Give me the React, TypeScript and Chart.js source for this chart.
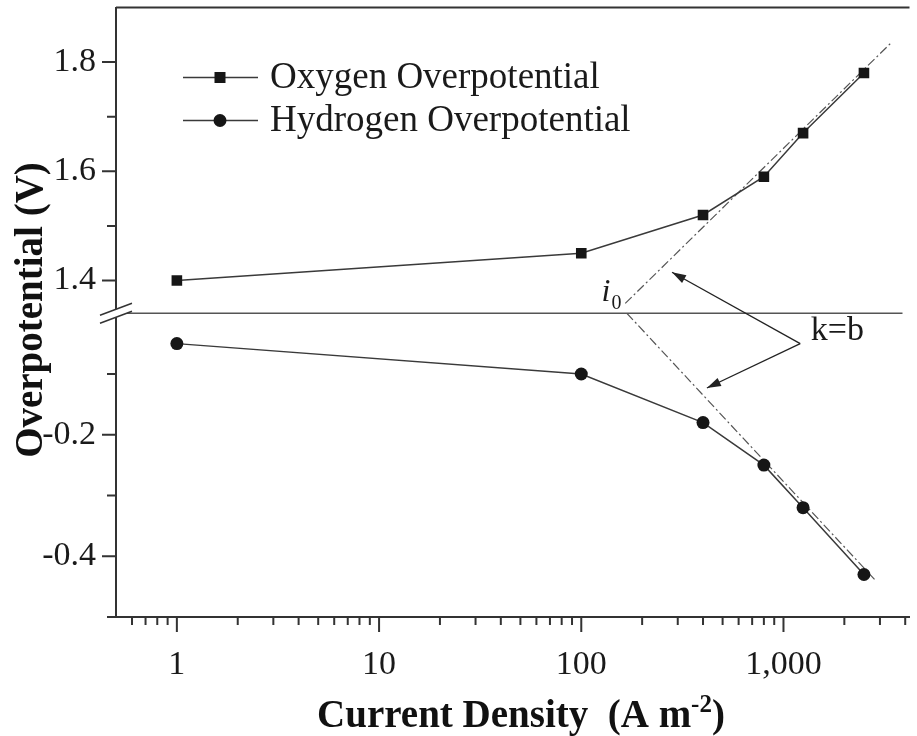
import React, { useEffect, useRef } from 'react';
import { Chart, registerables } from 'chart.js';

Chart.register(...registerables);

// ---- data ----
const currentDensity = [1, 100, 400, 800, 1250, 2500];
const oxygenOverpotential = [1.40, 1.45, 1.52, 1.59, 1.67, 1.78];
const hydrogenOverpotential = [-0.05, -0.10, -0.18, -0.25, -0.32, -0.43];

// Tafel (k=b) extrapolation lines
const oxygenTafelX = [165, 3400];
const oxygenTafelY = [1.358, 1.835];
const hydrogenTafelX = [168, 2820];
const hydrogenTafelY = [0.0, -0.438];

// axes
const xTickValues = [1, 10, 100, 1000];
const xTickLabels = ['1', '10', '100', '1,000'];
const upperTicks = [1.4, 1.6, 1.8];
const upperMinorTicks = [1.5, 1.7];
const lowerTicks = [-0.2, -0.4];
const lowerMinorTicks = [-0.1, -0.3];
const upperRange = [1.34, 1.9];
const lowerRange = [-0.5, 0.0];
const xRange = [0.5, 4200];

const seriesNames = ['Oxygen Overpotential', 'Hydrogen Overpotential'];
const xTitle = 'Current Density  (A m';
const xTitleSup = '-2';
const yTitle = 'Overpotential (V)';

// annotation anchors (data coordinates)
const arrowTail = { x: 1210, y: -0.05 };
const arrowHeadUpper = { x: 281, y: 1.415 };
const arrowHeadLower = { x: 418, y: -0.123 };
const kbLabelPos = { x: 1365, y: -0.03 };
const i0LabelPos = { x: 126, y: 1.363 };

const FONT = "'Liberation Serif', 'Times New Roman', serif";
const AXIS = '#333';
const LINE = '#3a3a3a';
const MARK = '#161616';

function xMinorValues(): number[] {
  const out: number[] = [];
  for (let d = 0.1; d <= 1000; d *= 10) {
    for (let m = 2; m <= 9; m++) {
      const v = Math.round(d * m * 1000) / 1000;
      if (v > xRange[0] && v < xRange[1] && !xTickValues.includes(v)) out.push(v);
    }
  }
  return out;
}

const decorPlugin = {
  id: 'decor',
  afterDraw(chart: any) {
    const ctx = chart.ctx as CanvasRenderingContext2D;
    const { left, right, top, bottom } = chart.chartArea;
    const xs = chart.scales.x;
    const yu = chart.scales.y1;
    const yl = chart.scales.y2;
    ctx.save();
    ctx.strokeStyle = AXIS;
    ctx.lineWidth = 2;
    ctx.lineCap = 'butt';
    // top frame line
    ctx.beginPath();
    ctx.moveTo(left, top);
    ctx.lineTo(right, top);
    // small extension of the x axis to the left of the y axis
    ctx.moveTo(left - 9, bottom);
    ctx.lineTo(left, bottom);
    ctx.stroke();
    // x ticks
    ctx.beginPath();
    for (const v of xTickValues) {
      const px = xs.getPixelForValue(v);
      ctx.moveTo(px, bottom);
      ctx.lineTo(px, bottom + 15);
    }
    for (const v of xMinorValues()) {
      const px = xs.getPixelForValue(v);
      ctx.moveTo(px, bottom);
      ctx.lineTo(px, bottom + 8);
    }
    // y ticks
    for (const v of upperTicks) {
      const py = yu.getPixelForValue(v);
      ctx.moveTo(left - 14, py);
      ctx.lineTo(left, py);
    }
    for (const v of upperMinorTicks) {
      const py = yu.getPixelForValue(v);
      ctx.moveTo(left - 9, py);
      ctx.lineTo(left, py);
    }
    for (const v of lowerTicks) {
      const py = yl.getPixelForValue(v);
      ctx.moveTo(left - 14, py);
      ctx.lineTo(left, py);
    }
    for (const v of lowerMinorTicks) {
      const py = yl.getPixelForValue(v);
      ctx.moveTo(left - 9, py);
      ctx.lineTo(left, py);
    }
    ctx.stroke();

    // break line across the plot
    const by = yu.bottom;
    ctx.strokeStyle = '#555';
    ctx.lineWidth = 1.5;
    ctx.beginPath();
    ctx.moveTo(left, by);
    ctx.lineTo(right - 7, by);
    ctx.stroke();

    // break marks on the y axis
    ctx.fillStyle = '#fff';
    ctx.beginPath();
    ctx.moveTo(left - 16, by + 2);
    ctx.lineTo(left + 16, by - 10);
    ctx.lineTo(left + 16, by - 2);
    ctx.lineTo(left - 16, by + 10);
    ctx.closePath();
    ctx.fill();
    ctx.strokeStyle = AXIS;
    ctx.lineWidth = 1.5;
    ctx.beginPath();
    ctx.moveTo(left - 16, by + 2);
    ctx.lineTo(left + 16, by - 10);
    ctx.moveTo(left - 16, by + 10);
    ctx.lineTo(left + 16, by - 2);
    ctx.stroke();

    // arrows
    const tx = xs.getPixelForValue(arrowTail.x);
    const ty = yl.getPixelForValue(arrowTail.y);
    const heads = [
      { x: xs.getPixelForValue(arrowHeadUpper.x), y: yu.getPixelForValue(arrowHeadUpper.y) },
      { x: xs.getPixelForValue(arrowHeadLower.x), y: yl.getPixelForValue(arrowHeadLower.y) },
    ];
    ctx.strokeStyle = '#222';
    ctx.fillStyle = '#222';
    ctx.lineWidth = 1.3;
    for (const h of heads) {
      ctx.beginPath();
      ctx.moveTo(tx, ty);
      ctx.lineTo(h.x, h.y);
      ctx.stroke();
      const ang = Math.atan2(h.y - ty, h.x - tx);
      const L = 14, W = 4.5;
      ctx.beginPath();
      ctx.moveTo(h.x, h.y);
      ctx.lineTo(h.x - L * Math.cos(ang) + W * Math.sin(ang), h.y - L * Math.sin(ang) - W * Math.cos(ang));
      ctx.lineTo(h.x - L * Math.cos(ang) - W * Math.sin(ang), h.y - L * Math.sin(ang) + W * Math.cos(ang));
      ctx.closePath();
      ctx.fill();
    }

    // k=b label
    ctx.fillStyle = '#1a1a1a';
    ctx.font = `34px ${FONT}`;
    ctx.textAlign = 'left';
    ctx.textBaseline = 'middle';
    ctx.fillText('k=b', xs.getPixelForValue(kbLabelPos.x), yl.getPixelForValue(kbLabelPos.y));

    // i0 label
    const ix = xs.getPixelForValue(i0LabelPos.x);
    const iy = yu.getPixelForValue(i0LabelPos.y);
    ctx.textBaseline = 'alphabetic';
    ctx.font = `italic 32px ${FONT}`;
    ctx.fillText('i', ix, iy);
    const iw = ctx.measureText('i').width;
    ctx.font = `20px ${FONT}`;
    ctx.fillText('0', ix + iw + 1, iy + 8);

    // legend
    const rows = [
      { y: top + 70, name: seriesNames[0], style: 'rect' },
      { y: top + 113, name: seriesNames[1], style: 'circle' },
    ];
    for (const r of rows) {
      const lx0 = left + 67, lx1 = left + 142, mx = left + 104;
      ctx.strokeStyle = LINE;
      ctx.lineWidth = 1.5;
      ctx.beginPath();
      ctx.moveTo(lx0, r.y);
      ctx.lineTo(lx1, r.y);
      ctx.stroke();
      ctx.fillStyle = MARK;
      if (r.style === 'rect') {
        ctx.fillRect(mx - 5.5, r.y - 5.5, 11, 11);
      } else {
        ctx.beginPath();
        ctx.arc(mx, r.y, 6.5, 0, Math.PI * 2);
        ctx.fill();
      }
      ctx.fillStyle = '#1a1a1a';
      ctx.font = `37px ${FONT}`;
      ctx.textAlign = 'left';
      ctx.textBaseline = 'middle';
      ctx.fillText(r.name, left + 154, r.y + 1);
    }

    // axis titles
    ctx.fillStyle = '#111';
    ctx.font = `bold 39px ${FONT}`;
    ctx.textBaseline = 'alphabetic';
    const mainW = ctx.measureText(xTitle).width;
    ctx.font = `bold 25px ${FONT}`;
    const supW = ctx.measureText(xTitleSup).width;
    ctx.font = `bold 39px ${FONT}`;
    const closeW = ctx.measureText(')').width;
    const totalW = mainW + supW + closeW;
    let sx = 521 - totalW / 2;
    const baseY = 727;
    ctx.textAlign = 'left';
    ctx.fillText(xTitle, sx, baseY);
    sx += mainW;
    ctx.font = `bold 25px ${FONT}`;
    ctx.fillText(xTitleSup, sx, baseY - 15);
    sx += supW;
    ctx.font = `bold 39px ${FONT}`;
    ctx.fillText(')', sx, baseY);

    ctx.save();
    ctx.translate(42, 310);
    ctx.rotate(-Math.PI / 2);
    ctx.textAlign = 'center';
    ctx.textBaseline = 'alphabetic';
    ctx.font = `bold 39px ${FONT}`;
    ctx.fillText(yTitle, 0, 0);
    ctx.restore();

    ctx.restore();
  },
};

const yFit = (s: any) => {
  s.width = 116;
  s.paddingTop = 0;
  s.paddingBottom = 0;
};

export default function App() {
  const ref = useRef<HTMLCanvasElement | null>(null);
  useEffect(() => {
    if (!ref.current) return;
    const pts = (xs: number[], ys: number[]) => xs.map((x, i) => ({ x, y: ys[i] }));
    const chart = new Chart(ref.current, {
      type: 'line',
      data: {
        datasets: [
          {
            label: seriesNames[0],
            data: pts(currentDensity, oxygenOverpotential),
            yAxisID: 'y1',
            borderColor: LINE,
            borderWidth: 1.5,
            backgroundColor: MARK,
            pointBackgroundColor: MARK,
            pointBorderColor: MARK,
            pointStyle: 'rect',
            pointRadius: 7.5,
            pointBorderWidth: 0,
            tension: 0,
          },
          {
            label: seriesNames[1],
            data: pts(currentDensity, hydrogenOverpotential),
            yAxisID: 'y2',
            borderColor: LINE,
            borderWidth: 1.5,
            backgroundColor: MARK,
            pointBackgroundColor: MARK,
            pointBorderColor: MARK,
            pointStyle: 'circle',
            pointRadius: 6.5,
            pointBorderWidth: 0,
            tension: 0,
          },
          {
            label: 'Oxygen Tafel line',
            data: pts(oxygenTafelX, oxygenTafelY),
            yAxisID: 'y1',
            borderColor: '#555',
            borderWidth: 1.2,
            borderDash: [9, 3, 2, 3],
            pointRadius: 0,
          },
          {
            label: 'Hydrogen Tafel line',
            data: pts(hydrogenTafelX, hydrogenTafelY),
            yAxisID: 'y2',
            borderColor: '#555',
            borderWidth: 1.2,
            borderDash: [9, 3, 2, 3],
            pointRadius: 0,
          },
        ],
      },
      options: {
        animation: false,
        responsive: false,
        devicePixelRatio: 1,
        layout: { padding: { top: 7, left: 0, right: 0, bottom: 0 } },
        plugins: { legend: { display: false }, tooltip: { enabled: false } },
        scales: {
          x: {
            type: 'logarithmic',
            position: 'bottom',
            min: xRange[0],
            max: xRange[1],
            afterBuildTicks: (s: any) => {
              s.ticks = xTickValues.map((v) => ({ value: v }));
            },
            afterFit: (s: any) => {
              s.height = 119;
              s.paddingLeft = 0;
              s.paddingRight = 0;
            },
            ticks: {
              autoSkip: false,
              maxRotation: 0,
              padding: 28,
              color: '#1a1a1a',
              font: { family: FONT, size: 34 },
              callback: (v: any) => {
                const i = xTickValues.indexOf(Number(v));
                return i >= 0 ? xTickLabels[i] : '';
              },
            },
            grid: { display: true, drawOnChartArea: false, drawTicks: false },
            border: { display: true, color: AXIS, width: 2 },
          },
          y2: {
            type: 'linear',
            position: 'left',
            stack: 'panels',
            stackWeight: 304,
            min: lowerRange[0],
            max: lowerRange[1],
            afterBuildTicks: (s: any) => {
              s.ticks = lowerTicks.map((v) => ({ value: v }));
            },
            afterFit: yFit,
            ticks: {
              autoSkip: false,
              padding: 20,
              color: '#1a1a1a',
              font: { family: FONT, size: 34 },
              callback: (v: any) => Number(v).toFixed(1),
            },
            grid: { display: true, drawOnChartArea: false, drawTicks: false },
            border: { display: true, color: AXIS, width: 2 },
          },
          y1: {
            type: 'linear',
            position: 'left',
            stack: 'panels',
            stackWeight: 306,
            min: upperRange[0],
            max: upperRange[1],
            afterBuildTicks: (s: any) => {
              s.ticks = upperTicks.map((v) => ({ value: v }));
            },
            afterFit: yFit,
            ticks: {
              autoSkip: false,
              padding: 20,
              color: '#1a1a1a',
              font: { family: FONT, size: 34 },
              callback: (v: any) => Number(v).toFixed(1),
            },
            grid: { display: true, drawOnChartArea: false, drawTicks: false },
            border: { display: true, color: AXIS, width: 2 },
          },
        },
      } as any,
      plugins: [decorPlugin],
    });
    return () => chart.destroy();
  }, []);

  return (
    <div style={{ position: 'fixed', left: 0, top: 0, width: 917, height: 736, background: '#fff' }}>
      <canvas ref={ref} width={917} height={736} style={{ display: 'block', width: 917, height: 736 }} />
    </div>
  );
}
